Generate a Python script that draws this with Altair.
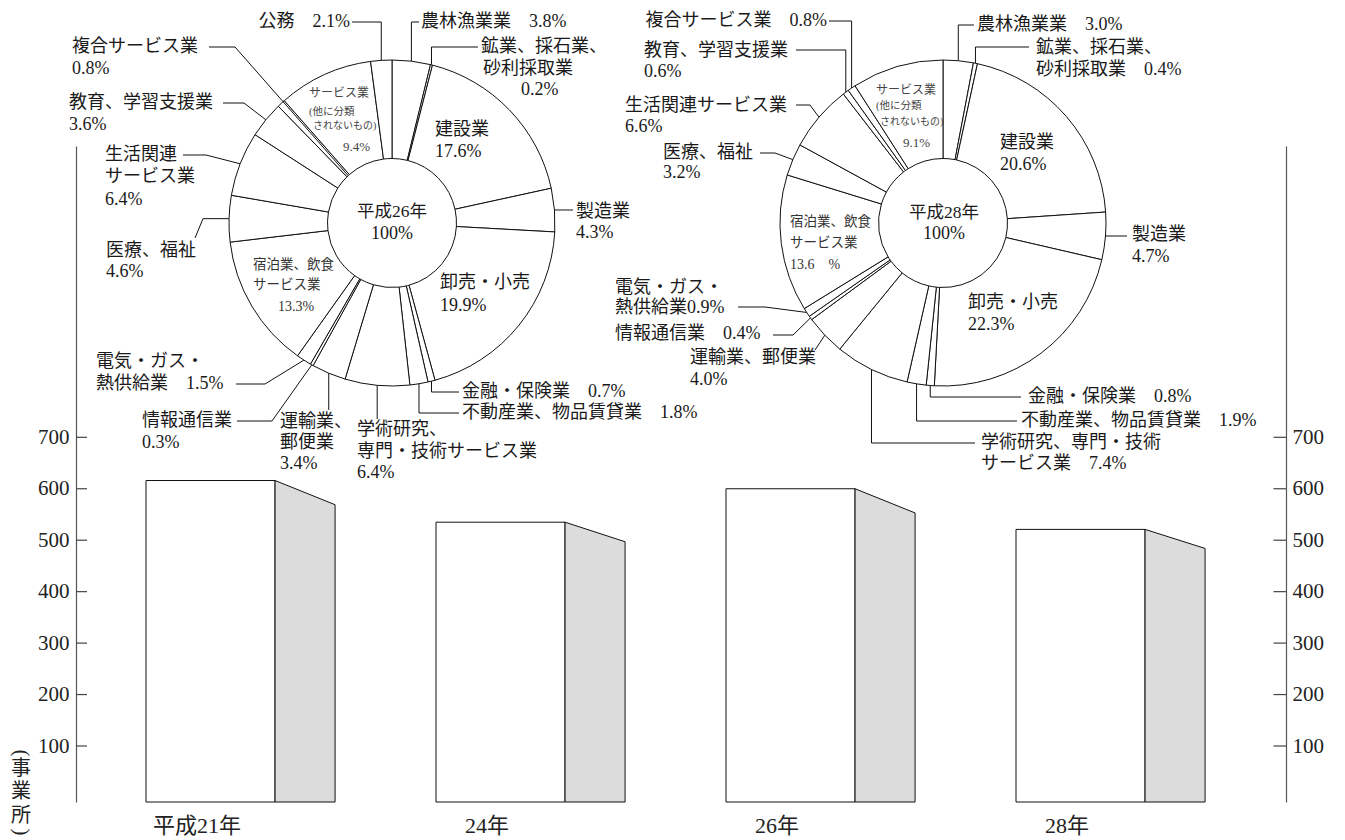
import math
import altair as alt
import pandas as pd

# ---------------- data ----------------
years = ["平成21年", "24年", "26年", "28年"]
establishments = [616, 535, 600, 521]
side_tops = [569, 497, 553, 484]
y_ticks = [100, 200, 300, 400, 500, 600, 700]

industries_26 = ["農林漁業", "鉱業、採石業、砂利採取業", "建設業", "製造業", "卸売・小売",
                 "金融・保険業", "不動産業、物品賃貸業", "学術研究、専門・技術サービス業",
                 "運輸業、郵便業", "情報通信業", "電気・ガス・熱供給業", "宿泊業、飲食サービス業",
                 "医療、福祉", "生活関連サービス業", "教育、学習支援業", "複合サービス業",
                 "サービス業（他に分類されないもの）", "公務"]
shares_26 = [3.8, 0.2, 17.6, 4.3, 19.9, 0.7, 1.8, 6.4, 3.4, 0.3, 1.5, 13.3, 4.6, 6.4, 3.6, 0.8, 9.4, 2.1]
industries_28 = industries_26[:-1]
shares_28 = [3.0, 0.4, 20.6, 4.7, 22.3, 0.8, 1.9, 7.4, 4.0, 0.4, 0.9, 13.6, 3.2, 6.6, 0.6, 0.8, 9.1]

# ---------------- layout ----------------
OX, OY = 76, 146          # page position of plot origin
W, H = 1210, 656
Y_MIN, Y_MAX = -8.84, 1266.2
X_MIN, X_MAX = -0.2414, 3.931
FRONT_W, SIDE_W, LABEL_SHIFT = 0.445, 0.207, 0.176
L_C, R_C = (392, 223), (943, 223)
R_OUT, R_IN = 163, 64.5
SERIF = "Liberation Serif"
FONT = "Liberation Serif, Noto Sans CJK JP"
TXT = "#1a1a1a"
FS = 18

xscale = alt.Scale(domain=[X_MIN, X_MAX], nice=False, zero=False)
yscale = alt.Scale(domain=[Y_MIN, Y_MAX], nice=False, zero=False)

# ---------------- bar chart ----------------
bars_df = pd.DataFrame({
    "year": years,
    "x1": [i for i in range(len(years))],
    "x2": [i + FRONT_W for i in range(len(years))],
    "v": establishments,
})
side_rows = []
for i, (a, b) in enumerate(zip(establishments, side_tops)):
    side_rows.append({"bar": i, "x": i + FRONT_W, "v": a})
    side_rows.append({"bar": i, "x": i + FRONT_W + SIDE_W, "v": b})
side_df = pd.DataFrame(side_rows)

axis_common = dict(values=y_ticks, ticks=False, grid=False, labelFont=SERIF,
                   labelFontSize=21, labelColor="#222", domainColor="#555", domainWidth=1.2,
                   title=None)

front = alt.Chart(bars_df).mark_rect(fill="white", stroke="#111", strokeWidth=1).encode(
    x=alt.X("x1:Q", scale=xscale,
            axis=alt.Axis(labels=False, ticks=False, grid=False, domainColor="#333",
                          domainWidth=1.2, title=None)),
    x2="x2:Q",
    y=alt.Y("v:Q", scale=yscale, axis=alt.Axis(orient="left", labelPadding=7, **axis_common)),
    y2=alt.datum(Y_MIN),
)

side = alt.Chart(side_df).mark_area(fill="#dcdcdc", stroke="#111", strokeWidth=1,
                                    interpolate="linear").encode(
    x=alt.X("x:Q", scale=xscale, axis=None),
    y=alt.Y("v:Q", scale=yscale, stack=None,
            axis=alt.Axis(orient="right", labelPadding=6, **axis_common)),
    y2=alt.datum(Y_MIN),
    detail="bar:N",
)

tick_df = pd.DataFrame({"t": y_ticks})
tick_l = alt.Chart(tick_df).mark_rule(color="#444", strokeWidth=1.2).encode(
    y=alt.Y("t:Q", scale=yscale, axis=None), x=alt.value(0), x2=alt.value(11))
tick_r = alt.Chart(tick_df).mark_rule(color="#444", strokeWidth=1.2).encode(
    y=alt.Y("t:Q", scale=yscale, axis=None), x=alt.value(W - 12.5), x2=alt.value(W))

xl_df = pd.DataFrame({"xl": [i + LABEL_SHIFT for i in range(len(years))], "label": years})
xlab = alt.Chart(xl_df).mark_text(font=FONT, fontSize=22, color="#222", baseline="middle").encode(
    x=alt.X("xl:Q", scale=xscale, axis=None), y=alt.value(826 - OY), text="label:N")

# ---------------- donuts ----------------
def donut(inds, shares, c):
    df = pd.DataFrame({"idx": range(len(shares)), "ind": inds, "share": shares})
    return alt.Chart(df).mark_arc(radius=R_OUT, radius2=R_IN, fill="white", stroke="#111",
                                  strokeWidth=1).encode(
        theta=alt.Theta("share:Q", stack=True),
        order=alt.Order("idx:Q"),
        x=alt.value(c[0] - OX), y=alt.value(c[1] - OY))

arc26 = donut(industries_26, shares_26, L_C)
arc28 = donut(industries_28, shares_28, R_C)


def ring_point(c, r, shares, k):
    tot = sum(shares)
    a = (sum(shares[:k]) + shares[k] / 2) / tot * 2 * math.pi
    return c[0] + r * math.sin(a), c[1] - r * math.cos(a)


segs = []

def leader(c, shares, k, path, inner=False):
    pts = [ring_point(c, R_IN if inner else R_OUT, shares, k)]
    for px, py in path:
        lx, ly = pts[-1]
        pts.append((lx if px == "sx" else px, ly if py == "sy" else py))
    for a, b in zip(pts, pts[1:]):
        segs.append({"x1": a[0] - OX, "y1": a[1] - OY, "x2": b[0] - OX, "y2": b[1] - OY})

# 平成26年
leader(L_C, shares_26, 17, [("sx", 22), (352, 22)])
leader(L_C, shares_26, 0, [("sx", 22), (419, 22)])
leader(L_C, shares_26, 1, [("sx", 47), (478, 47)])
leader(L_C, shares_26, 3, [(573, "sy")])
leader(L_C, shares_26, 5, [("sx", 392), (459, 392)])
leader(L_C, shares_26, 6, [("sx", 413), (459, 413)])
leader(L_C, shares_26, 7, [("sx", 419)])
leader(L_C, shares_26, 8, [("sx", 410)])
leader(L_C, shares_26, 9, [(272, 421), (237, 421)])
leader(L_C, shares_26, 10, [(265, 384), (236, 384)])
leader(L_C, shares_26, 12, [(203, "sy"), (195, 238)])
leader(L_C, shares_26, 13, [(206, 155), (183, 155)])
leader(L_C, shares_26, 14, [(244, 103), (223, 103)])
leader(L_C, shares_26, 15, [(235, 47), (209, 47)], inner=True)
# 平成28年
leader(R_C, shares_28, 15, [("sx", 21), (829, 21)])
leader(R_C, shares_28, 14, [("sx", 50), (796, 50)])
leader(R_C, shares_28, 13, [(810, 105), (796, 105)])
leader(R_C, shares_28, 12, [(775, 153), (760, 153)])
leader(R_C, shares_28, 10, [(765, 307), (738, 307)])
leader(R_C, shares_28, 9, [(793, 335), (773, 335)])
leader(R_C, shares_28, 8, [(815, 350)])
leader(R_C, shares_28, 7, [("sx", 443), (975, 443)])
leader(R_C, shares_28, 6, [("sx", 421), (1017, 421)])
leader(R_C, shares_28, 5, [("sx", 397), (1021, 397)])
leader(R_C, shares_28, 3, [(1127, "sy")])
leader(R_C, shares_28, 1, [("sx", 47), (1029, 47)])
leader(R_C, shares_28, 0, [("sx", 25), (974, 25)])

seg_df = pd.DataFrame(segs)
leaders = alt.Chart(seg_df).mark_rule(color="#111", strokeWidth=1).encode(
    x=alt.X("x1:Q", scale=None, axis=None), y=alt.Y("y1:Q", scale=None, axis=None),
    x2="x2:Q", y2="y2:Q")

# ---------------- labels ----------------
G1, G2 = "#333", "#444"
left_rows = [
    # 平成26年
    (421, 22, "農林漁業業　3.8%", FS, TXT),
    (481, 47, "鉱業、採石業、", FS, TXT), (483, 68.5, "砂利採取業", FS, TXT), (521, 90, "0.2%", FS, TXT),
    (435, 130, "建設業", FS, TXT), (435, 152, "17.6%", FS, TXT),
    (576, 212, "製造業", FS, TXT), (576, 233, "4.3%", FS, TXT),
    (440, 283, "卸売・小売", FS, TXT), (440, 306, "19.9%", FS, TXT),
    (462, 392, "金融・保険業　0.7%", FS, TXT),
    (462, 413, "不動産業、物品賃貸業　1.8%", FS, TXT),
    (357, 430, "学術研究、", FS, TXT), (357, 452, "専門・技術サービス業", FS, TXT), (357, 473, "6.4%", FS, TXT),
    (280, 422, "運輸業、", FS, TXT), (280, 443, "郵便業", FS, TXT), (280, 464, "3.4%", FS, TXT),
    (142, 421, "情報通信業", FS, TXT), (142, 443, "0.3%", FS, TXT),
    (96, 362, "電気・ガス・", FS, TXT), (96, 384, "熱供給業　1.5%", FS, TXT),
    (106, 251, "医療、福祉", FS, TXT), (106, 272, "4.6%", FS, TXT),
    (105, 155, "生活関連", FS, TXT), (105, 177, "サービス業", FS, TXT), (105, 200, "6.4%", FS, TXT),
    (69, 103, "教育、学習支援業", FS, TXT), (69, 125, "3.6%", FS, TXT),
    (72, 47, "複合サービス業", FS, TXT), (72, 69, "0.8%", FS, TXT),
    (309, 93, "サービス業", 12, G2), (309, 111.5, "(他に分類", 10.5, G2),
    (313, 126, "されないもの)", 10, G2), (343, 147, "9.4%", 13, G2),
    (253, 265, "宿泊業、飲食", 13.5, G1), (253, 285, "サービス業", 13.5, G1), (278, 307, "13.3%", 14, G1),
    # 平成28年
    (977, 25, "農林漁業業　3.0%", FS, TXT),
    (1036, 48, "鉱業、採石業、", FS, TXT), (1036, 70, "砂利採取業　0.4%", FS, TXT),
    (1000, 143, "建設業", FS, TXT), (1000, 165, "20.6%", FS, TXT),
    (1132, 235, "製造業", FS, TXT), (1132, 257, "4.7%", FS, TXT),
    (968, 303, "卸売・小売", FS, TXT), (968, 325, "22.3%", FS, TXT),
    (1028, 397, "金融・保険業　0.8%", FS, TXT),
    (1021, 421, "不動産業、物品賃貸業　1.9%", FS, TXT),
    (981, 443, "学術研究、専門・技術", FS, TXT), (981, 464, "サービス業　7.4%", FS, TXT),
    (690, 358, "運輸業、郵便業", FS, TXT), (690, 380, "4.0%", FS, TXT),
    (615, 334, "情報通信業　0.4%", FS, TXT),
    (615, 288, "電気・ガス・", FS, TXT), (615, 308, "熱供給業0.9%", FS, TXT),
    (663, 153, "医療、福祉", FS, TXT), (663, 173, "3.2%", FS, TXT),
    (625, 106, "生活関連サービス業", FS, TXT), (625, 127, "6.6%", FS, TXT),
    (644, 51, "教育、学習支援業", FS, TXT), (644, 72, "0.6%", FS, TXT),
    (876, 90, "サービス業", 12, G2), (876, 106, "(他に分類", 10.5, G2),
    (880, 122, "されないもの)", 10, G2), (903, 143, "9.1%", 13, G2),
    (790, 222, "宿泊業、飲食", 13.5, G1), (790, 243, "サービス業", 13.5, G1), (790, 265, "13.6　%", 14, G1),
]
right_rows = [
    (350, 22, "公務　2.1%", FS, TXT),
    (827, 21, "複合サービス業　0.8%", FS, TXT),
]
center_rows = [
    (392, 212, "平成26年", 17.5, TXT), (392, 234, "100%", 18, TXT),
    (944, 213, "平成28年", 17.5, TXT), (944, 234, "100%", 18, TXT),
    (21, 769, "事", 20, "#222"), (21, 792, "業", 20, "#222"), (21, 816, "所", 20, "#222"),
]
paren_rows = [(21, 753, "(", 21, "#222"), (21, 832, ")", 21, "#222")]


def text_layer(rows, align, angle=0, font=FONT):
    df = pd.DataFrame(rows, columns=["x", "y", "t", "fs", "col"])
    df["x"] = df["x"] - OX
    df["y"] = df["y"] - OY
    return alt.Chart(df).mark_text(font=font, align=align, baseline="middle", angle=angle).encode(
        x=alt.X("x:Q", scale=None, axis=None),
        y=alt.Y("y:Q", scale=None, axis=None),
        text="t:N",
        size=alt.Size("fs:Q", scale=None, legend=None),
        color=alt.Color("col:N", scale=None, legend=None),
    )


chart = alt.layer(
    front, side, tick_l, tick_r, xlab, arc26, arc28, leaders,
    text_layer(left_rows, "left"), text_layer(right_rows, "right"),
    text_layer(center_rows, "center"), text_layer(paren_rows, "center", angle=90, font=SERIF),
).resolve_scale(theta="independent").resolve_axis(y="independent").properties(
    width=W, height=H,
    padding={"left": OX - 8, "top": OY - 8, "right": 1337 - (OX + W), "bottom": 36},
    autosize=alt.AutoSizeParams(type="none"),
    background="white",
).configure_view(strokeWidth=0)

chart.save("out.html", embed_options={"renderer": "svg", "actions": False})
